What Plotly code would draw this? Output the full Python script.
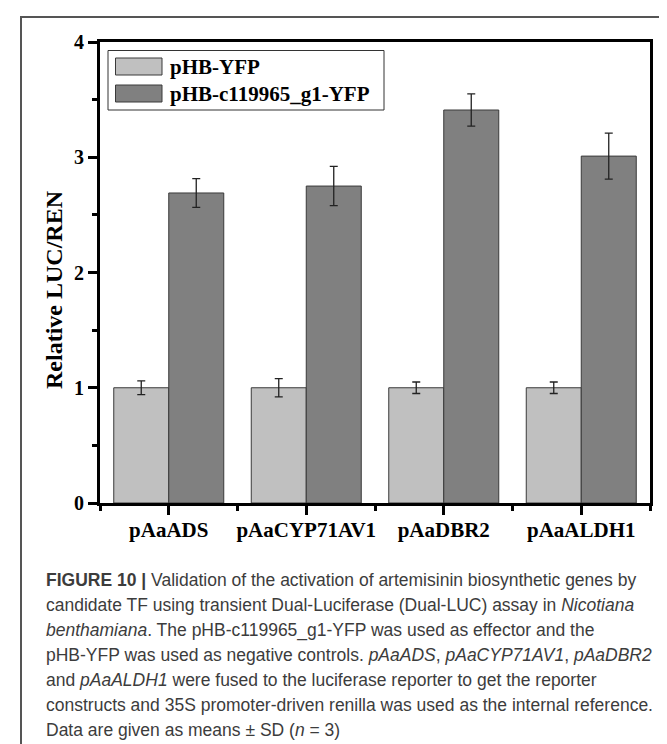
import plotly.graph_objects as go

# ---- data ----
categories = ["pAaADS", "pAaCYP71AV1", "pAaDBR2", "pAaALDH1"]
series_names = ["pHB-YFP", "pHB-c119965_g1-YFP"]
control_mean = [1.00, 1.00, 1.00, 1.00]
control_sd = [0.06, 0.08, 0.05, 0.05]
effector_mean = [2.69, 2.75, 3.41, 3.01]
effector_sd = [0.125, 0.17, 0.14, 0.20]
y_ticks = [0, 1, 2, 3, 4]

caption_lines = [
    "<b>FIGURE 10 |</b> Validation of the activation of artemisinin biosynthetic genes by",
    "candidate TF using transient Dual-Luciferase (Dual-LUC) assay in <i>Nicotiana</i>",
    "<i>benthamiana</i>. The pHB-c119965_g1-YFP was used as effector and the",
    "pHB-YFP was used as negative controls. <i>pAaADS</i>, <i>pAaCYP71AV1</i>, <i>pAaDBR2</i>",
    "and <i>pAaALDH1</i> were fused to the luciferase reporter to get the reporter",
    "constructs and 35S promoter-driven renilla was used as the internal reference.",
    "Data are given as means \u00b1 SD (<i>n</i> = 3)",
]

# ---- layout geometry (pixels) ----
W, H = 667, 744
L, R, T, B = 92, 642, 34, 495
PW, PH = R - L, B - T

def px2x(px):
    return (px - L) / PW

def px2y(py):
    return (B - py) / PH

colors = ["#c0c0c0", "#808080"]
edge = "#3a3a3a"
serif = "Liberation Serif"
sans = "Liberation Sans"

xpos = list(range(len(categories)))

fig = go.Figure()
for name, mean, sd, col in zip(series_names, [control_mean, effector_mean],
                               [control_sd, effector_sd], colors):
    fig.add_trace(go.Bar(
        x=xpos, y=mean, name=name,
        marker=dict(color=col, line=dict(color=edge, width=1)),
        error_y=dict(type="data", array=sd, visible=True,
                     color="#222222", thickness=1.3, width=4),
        showlegend=False,
    ))

fig.update_layout(
    width=W, height=H,
    margin=dict(l=L, r=W - R, t=T, b=H - B),
    paper_bgcolor="white", plot_bgcolor="white",
    barmode="group", bargap=0.2, bargroupgap=0,
    font=dict(family=serif, color="black"),
)

fig.update_xaxes(
    range=[-0.5, len(categories) - 0.5],
    tickmode="array", tickvals=xpos, ticktext=categories,
    tickfont=dict(family=serif, size=21, color="black", weight="bold"),
    ticks="outside", ticklen=9, tickwidth=2.5, tickcolor="black",
    ticklabelstandoff=-3,
    minor=dict(tickmode="array", tickvals=[i - 0.5 for i in range(len(categories) + 1)],
               ticks="outside", ticklen=5, tickwidth=2.5, tickcolor="black"),
    showline=True, linewidth=3, linecolor="black", mirror=True,
    showgrid=False, zeroline=False, fixedrange=True,
)
fig.update_yaxes(
    range=[0, 4],
    tickmode="array", tickvals=y_ticks, ticktext=[str(v) for v in y_ticks],
    tickfont=dict(family=serif, size=20, color="black", weight="bold"),
    ticks="outside", ticklen=9, tickwidth=2.5, tickcolor="black",
    minor=dict(dtick=0.5, ticks="outside", ticklen=5, tickwidth=2.5, tickcolor="black"),
    showline=True, linewidth=3, linecolor="black", mirror=True,
    showgrid=False, zeroline=False, fixedrange=True,
)

shapes = []
annotations = []

# outer figure frame (top and left edges visible)
shapes.append(dict(type="rect", xref="paper", yref="paper",
                   x0=px2x(13), x1=px2x(720), y0=px2y(800), y1=px2y(9),
                   line=dict(color="#555555", width=2), fillcolor="rgba(0,0,0,0)",
                   layer="above"))

# legend box
shapes.append(dict(type="rect", xref="paper", yref="paper",
                   x0=px2x(100), x1=px2x(376), y0=px2y(102), y1=px2y(42.5),
                   line=dict(color="#333333", width=1), fillcolor="white", layer="above"))
swatch_rows = [(50, 67), (77, 94)]
for (y0, y1), col, name in zip(swatch_rows, colors, series_names):
    shapes.append(dict(type="rect", xref="paper", yref="paper",
                       x0=px2x(107.5), x1=px2x(154), y0=px2y(y1), y1=px2y(y0),
                       line=dict(color=edge, width=1), fillcolor=col, layer="above"))
    annotations.append(dict(xref="paper", yref="paper", x=px2x(160), y=px2y((y0 + y1) / 2),
                            xanchor="left", yanchor="middle", showarrow=False,
                            text="<b>" + name + "</b>",
                            font=dict(family=serif, size=21, color="black")))

# y-axis title
annotations.append(dict(xref="paper", yref="paper", x=px2x(46), y=px2y(282),
                        xanchor="center", yanchor="middle", showarrow=False,
                        textangle=-90, text="<b>Relative LUC/REN</b>",
                        font=dict(family=serif, size=24, color="black")))

# caption
for i, line in enumerate(caption_lines):
    annotations.append(dict(xref="paper", yref="paper", x=px2x(36), y=px2y(572 + 25 * i),
                            xanchor="left", yanchor="middle", showarrow=False,
                            text=line, align="left",
                            font=dict(family=sans, size=17.5, color="#3c3c3c")))

fig.update_layout(shapes=shapes, annotations=annotations)

fig.write_html("out.html")
